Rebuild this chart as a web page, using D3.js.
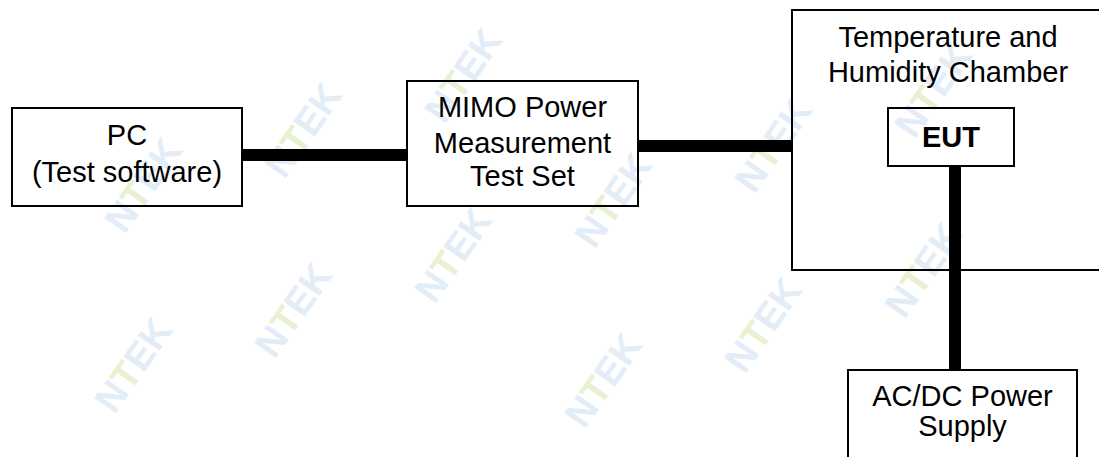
<!DOCTYPE html>
<html>
<head>
<meta charset="utf-8">
<script src="https://cdn.jsdelivr.net/npm/d3@7"></script>
<style>
  html, body { margin: 0; padding: 0; background: #fff; overflow: hidden; }
  text { font-family: Arial, "Liberation Sans", sans-serif; }
</style>
</head>
<body>
<div id="chart"></div>
<script>
// Diagram content.
const boxIds = ["pc", "mimo", "chamber", "eut", "power"];
const boxLabels = [
  ["PC", "(Test software)"],
  ["MIMO Power", "Measurement", "Test Set"],
  ["Temperature and", "Humidity Chamber"],
  ["EUT"],
  ["AC/DC Power", "Supply"]
];
const boxBold = [false, false, false, true, false];
const links = [["pc", "mimo"], ["mimo", "chamber"], ["eut", "power"]];
const watermarkText = ["N", "T", "E", "K"];

// Layout (pixels).
const W = 1099, H = 457;
const layout = {
  pc:      { x: 11,  y: 107, w: 232, h: 100, base: [145, 182] },
  mimo:    { x: 406, y: 80,  w: 233, h: 127, base: [117, 153, 186] },
  chamber: { x: 791, y: 9,   w: 312, h: 262, base: [47, 82], cx: 948 },
  eut:     { x: 887, y: 107, w: 128, h: 60,  base: [147] },
  power:   { x: 847, y: 369, w: 231, h: 100, base: [406, 436] }
};
const linkPos = {
  "pc-mimo":      { y: 155 },
  "mimo-chamber": { y: 146 },
  "eut-power":    { x: 955 }
};

const svg = d3.select("#chart").append("svg")
  .attr("width", W)
  .attr("height", H);

svg.append("rect")
  .attr("width", W)
  .attr("height", H)
  .attr("fill", "#fff");

// Faint watermark tiles in the background (only whole ones).
const wm = svg.append("g").attr("class", "watermark");
const ax = [160, -55], bx = [150, 125], origin = [293, 310];
for (let i = -8; i <= 8; i++) {
  for (let j = -5; j <= 5; j++) {
    const px = origin[0] + i * ax[0] + j * bx[0];
    const py = origin[1] + i * ax[1] + j * bx[1];
    if (px < 45 || px > W - 45 || py < 50 || py > H - 50) continue;
    const t = wm.append("text")
      .attr("transform", "translate(" + px + "," + py + ") rotate(-55)")
      .attr("text-anchor", "middle")
      .attr("dy", "0.35em")
      .attr("font-size", 38)
      .attr("font-weight", "bold")
      .attr("fill", "#e2edf8");
    watermarkText.forEach(function(ch, k) {
      t.append("tspan")
        .attr("fill", k === 1 ? "#e8f1d2" : "#e2edf8")
        .text(ch);
    });
  }
}

// Thick connection lines.
const linkG = svg.append("g").attr("class", "links");
links.forEach(function(l) {
  const a = layout[l[0]], b = layout[l[1]];
  const key = l[0] + "-" + l[1];
  const p = linkPos[key];
  let x1, y1, x2, y2;
  if (p.y !== undefined) {
    x1 = a.x + a.w; x2 = b.x; y1 = y2 = p.y;
  } else {
    y1 = a.y + a.h; y2 = b.y; x1 = x2 = p.x;
  }
  linkG.append("line")
    .attr("x1", x1).attr("y1", y1)
    .attr("x2", x2).attr("y2", y2)
    .attr("stroke", "#000")
    .attr("stroke-width", 12);
});

// Boxes with labels.
const boxG = svg.append("g").attr("class", "boxes");
boxIds.forEach(function(id, i) {
  const b = layout[id];
  boxG.append("rect")
    .attr("x", b.x + 1)
    .attr("y", b.y + 1)
    .attr("width", b.w - 2)
    .attr("height", b.h - 2)
    .attr("fill", "none")
    .attr("stroke", "#000")
    .attr("stroke-width", 2);

  const cx = b.cx !== undefined ? b.cx : b.x + b.w / 2;
  boxLabels[i].forEach(function(line, k) {
    boxG.append("text")
      .attr("x", cx)
      .attr("y", b.base[k])
      .attr("text-anchor", "middle")
      .attr("font-size", 29)
      .attr("font-weight", boxBold[i] ? "bold" : "normal")
      .attr("fill", "#000")
      .text(line);
  });
});

// Vertical link crosses the chamber border, keep it on top.
linkG.raise();
</script>
</body>
</html>
